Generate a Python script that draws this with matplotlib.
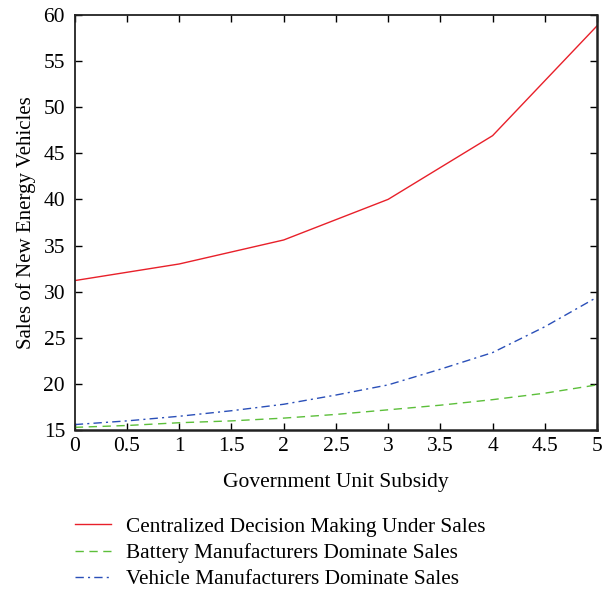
import matplotlib.pyplot as plt

plt.rcParams['font.family'] = ['Liberation Serif', 'DejaVu Serif']

# red line: values at integer subsidies
x_central = [0, 1, 2, 3, 4, 5]
central = [31.2, 33.0, 35.6, 40.0, 46.9, 58.8]

# dashed curves read at half steps
x_half = [0, 0.5, 1, 1.5, 2, 2.5, 3, 3.5, 4, 4.5, 5]
battery = [15.3, 15.5, 15.8, 16.0, 16.3, 16.7, 17.2, 17.7, 18.3, 19.0, 19.9]
vehicle = [15.6, 16.0, 16.5, 17.1, 17.8, 18.8, 19.9, 21.6, 23.4, 26.2, 29.4]

labels = ['Centralized Decision Making Under Sales',
          'Battery Manufacturers Dominate Sales',
          'Vehicle Manufacturers Dominate Sales']

fig = plt.figure(figsize=(6.08, 5.90), dpi=100)
ax = fig.add_axes([0.123, 0.271, 0.859, 0.704])

ax.plot(x_central, central, color='#e8202a', lw=1.0, label=labels[0])
ax.plot(x_half, battery, color='#5cbf3a', lw=1.0, ls=(0, (6, 4)), label=labels[1])
ax.plot(x_half, vehicle, color='#2a4fb8', lw=1.0, ls=(0, (6, 3, 1.5, 3)), label=labels[2])

ax.set_xlim(0, 5)
ax.set_ylim(15, 60)
ax.set_xticks([0, 0.5, 1, 1.5, 2, 2.5, 3, 3.5, 4, 4.5, 5])
ax.set_xticklabels(['0', '0.5', '1', '1.5', '2', '2.5', '3', '3.5', '4', '4.5', '5'])
ax.set_yticks(range(15, 61, 5))
ax.tick_params(direction='in', top=True, right=True, labelsize=15.5, length=5, width=1.0)
ax.tick_params(axis='y', pad=7)
ax.tick_params(axis='x', pad=5)
for name, s in ax.spines.items():
    s.set_linewidth(1.8 if name in ('right', 'bottom') else 1.3)
    s.set_color('#222222')

ax.set_xlabel('Government Unit Subsidy', fontsize=15.5, labelpad=12)
ax.set_ylabel('Sales of New Energy Vehicles', fontsize=15, labelpad=5)

fig.legend(loc='upper left', bbox_to_anchor=(0.123, 0.124), frameon=False,
           fontsize=15.3, handlelength=1.7, handletextpad=0.7, labelspacing=0.3,
           borderpad=0, borderaxespad=0)

plt.savefig('out.png', dpi=100)
